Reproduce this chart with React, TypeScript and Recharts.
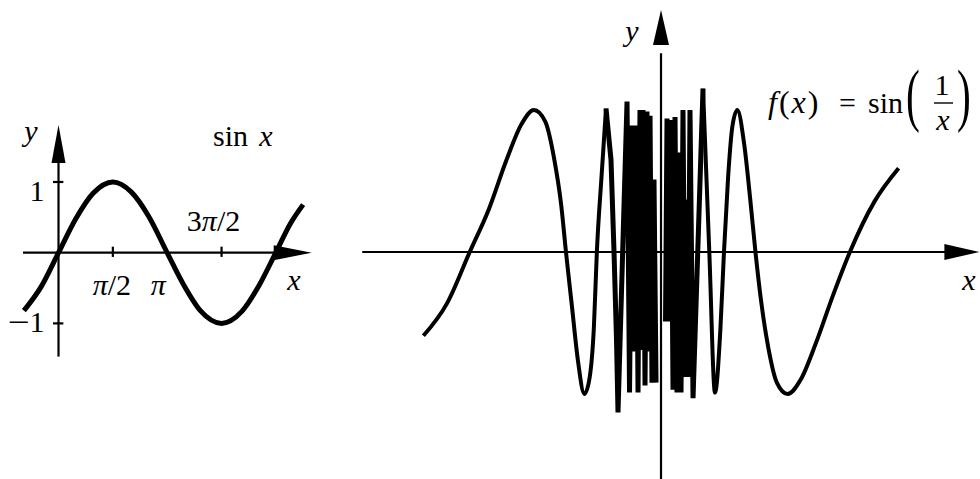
import React from 'react';
import { LineChart, Line, XAxis, YAxis, ReferenceLine, ReferenceDot } from 'recharts';

const PI = Math.PI;

// ---- Left plot: sin x ----
const sinXs = [-1.0, -0.5, 0, 0.5, 1.0, 1.57, 2.1, 2.6, 3.14, 3.6, 4.1, 4.71, 5.3, 5.8, 6.28, 6.7, 7.07];
const sinYs = [-0.82, -0.48, 0, 0.48, 0.84, 1.0, 0.86, 0.52, 0, -0.44, -0.82, -1.0, -0.83, -0.46, 0, 0.41, 0.68];

const leftXTickValues = [PI / 2, (3 * PI) / 2];
const leftYTickValues = [1, -1];
const leftYTickLabels = ['1', '\u22121'];

// ---- Right plot: sin(1/x) ----
const outerNegXs = [-0.4, -0.36, -0.322, -0.29, -0.26, -0.235, -0.214, -0.195, -0.18, -0.168, -0.16, -0.15, -0.14, -0.129, -0.12, -0.113, -0.108, -0.1, -0.0926];
const outerNegYs = [-0.59, -0.36, 0, 0.3, 0.65, 0.9, 1.0, 0.92, 0.66, 0.33, 0, -0.38, -0.76, -1.0, -0.88, -0.53, 0, 0.54, 1.01];

const coreNegXs = [-0.0926, -0.0842, -0.0791, -0.0749, -0.0724, -0.0572, -0.053, -0.0488, -0.0455, -0.0421, -0.0387, -0.0354, -0.0328, -0.0303, -0.0269, -0.0236, -0.021, -0.0185, -0.0152, -0.0118, -0.0084];
const coreNegYs = [1.01, 0.65, 0, -0.62, -1.13, 1.06, -0.99, 0.89, -0.7, 0.89, -0.99, 1.0, -0.69, 1.0, -0.94, 0.99, -0.7, 0.96, -0.92, 0.51, -0.92];

const corePosXs = [0.0076, 0.0101, 0.0135, 0.0168, 0.0202, 0.0236, 0.0269, 0.0303, 0.0337, 0.037, 0.0404, 0.0429, 0.0455, 0.0488, 0.0539, 0.0707];
const corePosYs = [-0.49, 0.94, -0.49, 0.93, -0.97, 0.95, -0.99, 0.7, -0.99, 1.0, -0.88, 0.37, -0.88, 1.0, -1.03, 1.15];

const outerPosXs = [0.0707, 0.0813, 0.0909, 0.1, 0.106, 0.113, 0.12, 0.1285, 0.14, 0.15, 0.159, 0.168, 0.18, 0.195, 0.213, 0.235, 0.26, 0.29, 0.318, 0.36, 0.4];
const outerPosYs = [1.15, 0, -0.99, -0.54, 0, 0.53, 0.88, 1.0, 0.76, 0.38, 0, -0.33, -0.66, -0.92, -1.0, -0.9, -0.65, -0.3, 0, 0.36, 0.59];

const zip = (xs: number[], ys: number[]) => xs.map((x, i) => ({ x, y: ys[i] }));

const FONT = '"Liberation Serif", serif';
const FS = 30;

const arrowRight = (len: number, half: number) => (p: any) => (
  <polygon points={`${p.cx},${p.cy} ${p.cx - len},${p.cy - half} ${p.cx - len},${p.cy + half}`} fill="#000" />
);
const arrowUp = (len: number, half: number) => (p: any) => (
  <polygon points={`${p.cx},${p.cy} ${p.cx - half},${p.cy + len} ${p.cx + half},${p.cy + len}`} fill="#000" />
);
const labelShape = (content: React.ReactNode, dx: number, dy: number, anchor: string) => (p: any) => (
  <text x={p.cx + dx} y={p.cy + dy} textAnchor={anchor} fontFamily={FONT} fontSize={FS} fill="#000">
    {content}
  </text>
);
const it = (s: string) => <tspan fontStyle="italic">{s}</tspan>;

export default function App() {
  return (
    <div style={{ position: 'absolute', left: 0, top: 0, width: 980, height: 479, background: '#fff', overflow: 'hidden' }}>
      <div style={{ position: 'absolute', left: 0, top: 0 }}>
        <LineChart width={330} height={479} margin={{ top: 0, right: 0, bottom: 0, left: 0 }}>
          <XAxis type="number" dataKey="x" domain={[-1.691, 7.847]} hide allowDataOverflow />
          <YAxis type="number" dataKey="y" domain={[-3.201, 3.574]} hide allowDataOverflow />
          <ReferenceLine segment={[{ x: -1.026, y: 0 }, { x: 7.0, y: 0 }]} stroke="#000" strokeWidth={2.2} ifOverflow="visible" />
          <ReferenceLine segment={[{ x: 0, y: -1.47 }, { x: 0, y: 1.5 }]} stroke="#000" strokeWidth={2.2} ifOverflow="visible" />
          {leftXTickValues.map((v) => (
            <ReferenceLine key={'xt' + v} segment={[{ x: v, y: -0.06 }, { x: v, y: 0.085 }]} stroke="#000" strokeWidth={2.2} ifOverflow="visible" />
          ))}
          {leftYTickValues.map((v) => (
            <ReferenceLine key={'yt' + v} segment={[{ x: -0.16, y: v }, { x: 0.14, y: v }]} stroke="#000" strokeWidth={2.2} ifOverflow="visible" />
          ))}
          <ReferenceDot x={7.318} y={0} ifOverflow="visible" shape={arrowRight(38, 7.5)} />
          <ReferenceDot x={0} y={1.806} ifOverflow="visible" shape={arrowUp(38, 7)} />
          <Line data={zip(sinXs, sinYs)} dataKey="y" type="monotone" stroke="#000" strokeWidth={5} dot={false} activeDot={false} isAnimationActive={false} strokeLinecap="butt" strokeDasharray="none" />
          <ReferenceDot x={PI / 2} y={0} ifOverflow="visible" shape={labelShape(<>{it('π')}/2</>, -1, 42, 'middle')} />
          <ReferenceDot x={PI} y={0} ifOverflow="visible" shape={labelShape(it('π'), -9, 42, 'middle')} />
          <ReferenceDot x={(3 * PI) / 2} y={0} ifOverflow="visible" shape={labelShape(<>3{it('π')}/2</>, -8, -22, 'middle')} />
          <ReferenceDot x={0} y={leftYTickValues[0]} ifOverflow="visible" shape={labelShape(leftYTickLabels[0], -14, 19, 'end')} />
        </LineChart>
      </div>
      <div style={{ position: 'absolute', left: 340, top: 0 }}>
        <LineChart width={640} height={479} margin={{ top: 0, right: 0, bottom: 0, left: 0 }}>
          <XAxis type="number" dataKey="x" domain={[-0.5404, 0.537]} hide allowDataOverflow />
          <YAxis type="number" dataKey="y" domain={[-1.5986, 1.7746]} hide allowDataOverflow />
          <ReferenceLine segment={[{ x: -0.503, y: 0 }, { x: 0.5, y: 0 }]} stroke="#000" strokeWidth={2.2} ifOverflow="visible" />
          <ReferenceLine segment={[{ x: 0, y: -1.6 }, { x: 0, y: 1.4 }]} stroke="#000" strokeWidth={2.2} ifOverflow="visible" />
          <ReferenceDot x={0.536} y={0} ifOverflow="visible" shape={arrowRight(35, 8)} />
          <ReferenceDot x={0} y={1.704} ifOverflow="visible" shape={arrowUp(35, 8)} />
          <Line data={zip(outerNegXs, outerNegYs)} dataKey="y" type="monotone" stroke="#000" strokeWidth={4} dot={false} activeDot={false} isAnimationActive={false} strokeLinecap="butt" strokeDasharray="none" />
          <Line data={zip(coreNegXs, coreNegYs)} dataKey="y" type="linear" stroke="#000" strokeWidth={5} dot={false} activeDot={false} isAnimationActive={false} strokeLinecap="butt" strokeDasharray="none" />
          <Line data={zip(corePosXs, corePosYs)} dataKey="y" type="linear" stroke="#000" strokeWidth={5} dot={false} activeDot={false} isAnimationActive={false} strokeLinecap="butt" strokeDasharray="none" />
          <Line data={zip(outerPosXs, outerPosYs)} dataKey="y" type="monotone" stroke="#000" strokeWidth={4} dot={false} activeDot={false} isAnimationActive={false} strokeLinecap="butt" strokeDasharray="none" />
        </LineChart>
      </div>
      <svg width={980} height={479} style={{ position: 'absolute', left: 0, top: 0, pointerEvents: 'none' }}>
        <g fontFamily={FONT} fontSize={FS} fill="#000">
          <text x={31} y={141} textAnchor="middle" fontStyle="italic">y</text>
          <text x={213} y={146}>sin</text>
          <text x={266} y={146} textAnchor="middle" fontStyle="italic">x</text>
          <text x={294} y={290} textAnchor="middle" fontStyle="italic">x</text>
          <text transform="translate(8,332) scale(1.3,1)">{'\u2212'}</text>
          <text x={44.5} y={332} textAnchor="end">1</text>
          <text x={632} y={41} textAnchor="middle" fontStyle="italic">y</text>
          <text x={969} y={290} textAnchor="middle" fontStyle="italic">x</text>
          <text x={768} y={113} fontSize={32} letterSpacing={2}>{it('f')}({it('x')})</text>
          <text x={847.5} y={113} textAnchor="middle">=</text>
          <text x={868} y={113}>sin</text>
          <text transform="translate(913,118) scale(0.6,1)" textAnchor="middle" fontSize={69}>(</text>
          <text x={942} y={95} textAnchor="middle">1</text>
          <line x1={934} x2={953} y1={103} y2={103} stroke="#000" strokeWidth={1.4} />
          <text x={943} y={130} textAnchor="middle" fontStyle="italic">x</text>
          <text transform="translate(964,118) scale(0.6,1)" textAnchor="middle" fontSize={69}>)</text>
        </g>
      </svg>
    </div>
  );
}
